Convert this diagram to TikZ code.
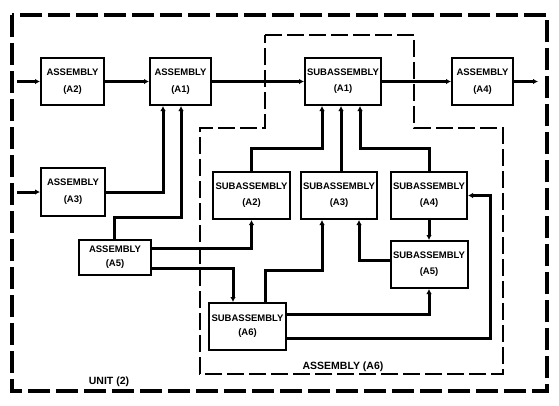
\documentclass[tikz,border=0pt]{standalone}
\usepackage{fontspec}
\setmainfont{Liberation Sans}
\usetikzlibrary{arrows.meta}

\begin{document}
\begin{tikzpicture}[x=1pt,y=-1pt,
    blk/.style={draw,line width=2pt,align=center,inner sep=0pt,
                font=\fontsize{9.5}{10}\selectfont\bfseries},
    wire/.style={line width=3pt,-{Latex[length=5pt,width=5.5pt]}},
    lbl/.style={font=\fontsize{10.5}{12}\selectfont\bfseries},
    unitline/.style={line width=3.2pt,dash pattern=on 22pt off 6pt},
    asmline/.style={line width=2.2pt,dash pattern=on 17pt off 5pt}]
\useasboundingbox (0,0) rectangle (559,405);
\draw[unitline] (12,15) rectangle (547,391);
\draw[asmline]
      (265,35) -- (414,35) -- (414,128) -- (503,128)
    -- (503,374) -- (200,374) -- (200,128) -- (265,128) -- cycle;
\path
    ( 72.5, 81.5) node [blk,minimum width=63pt,minimum height=47pt] (asmA2) {ASSEMBLY\\[7pt](A2)}
    (180.5, 81.5) node [blk,minimum width=61pt,minimum height=47pt] (asmA1) {ASSEMBLY\\[7pt](A1)}
    (343  , 81.5) node [blk,minimum width=76pt,minimum height=47pt] (subA1) {SUBASSEMBLY\\[6pt](A1)}
    (482.5, 81.5) node [blk,minimum width=61pt,minimum height=47pt] (asmA4) {ASSEMBLY\\[7pt](A4)}
    ( 73  ,192  ) node [blk,minimum width=64pt,minimum height=48pt] (asmA3) {ASSEMBLY\\[7pt](A3)}
    (115  ,257.5) node [blk,minimum width=72pt,minimum height=35pt] (asmA5) {ASSEMBLY\\[4pt](A5)}
    (251.5,195.5) node [blk,minimum width=77pt,minimum height=47pt] (subA2) {SUBASSEMBLY\\[6pt](A2)}
    (339  ,195.5) node [blk,minimum width=76pt,minimum height=47pt] (subA3) {SUBASSEMBLY\\[6pt](A3)}
    (429  ,195.5) node [blk,minimum width=76pt,minimum height=47pt] (subA4) {SUBASSEMBLY\\[6pt](A4)}
    (429  ,264.5) node [blk,minimum width=77pt,minimum height=47pt] (subA5) {SUBASSEMBLY\\[6pt](A5)}
    (247.5,326.5) node [blk,minimum width=77pt,minimum height=47pt] (subA6) {SUBASSEMBLY\\[4pt](A6)};
\path
    (109,382) node [lbl] (unitLbl)  {UNIT (2)}
    (343,367) node [lbl] (asmA6Lbl) {ASSEMBLY (A6)};
\coordinate (inA2)  at ( 17, 81.5);
\coordinate (inA3)  at ( 17,192);
\coordinate (outA4) at (538, 81.5);
\draw[wire] (inA2)       -- (asmA2.west);
\draw[wire] (asmA2.east) -- (asmA1.west);
\draw[wire] (asmA1.east) -- (subA1.west);
\draw[wire] (subA1.east) -- (asmA4.west);
\draw[wire] (asmA4.east) -- (outA4);
\draw[wire] (inA3)       -- (asmA3.west);
\draw[wire] (asmA3.east) -| (asmA1.south -| 163,0);
\draw[wire] (asmA5.north -| 114,0) |- (181,217) -- (asmA1.south -| 181,0);
\draw[wire] (asmA5.east  |- 0,248) -| (subA2.south);
\draw[wire] (asmA5.east  |- 0,268) -| (subA6.north -| 233,0);
\draw[wire] (subA2.north) |- (322,148) -- (subA1.south -| 322,0);
\draw[wire] (subA3.north -| 341,0) -- (subA1.south -| 341,0);
\draw[wire] (subA4.north) |- (360,148) -- (subA1.south -| 360,0);
\draw[wire] (subA6.north -| 265,0) |- (322,270) -- (subA3.south -| 322,0);
\draw[wire] (subA5.west  |- 0,260) -| (subA3.south -| 359,0);
\draw[wire] (subA4.south) -- (subA5.north);
\draw[wire] (subA6.east  |- 0,314) -| (subA5.south);
\draw[wire] (subA6.east  |- 0,338) -| ([xshift=22pt]subA4.east) -- (subA4.east);
\end{tikzpicture}
\end{document}
